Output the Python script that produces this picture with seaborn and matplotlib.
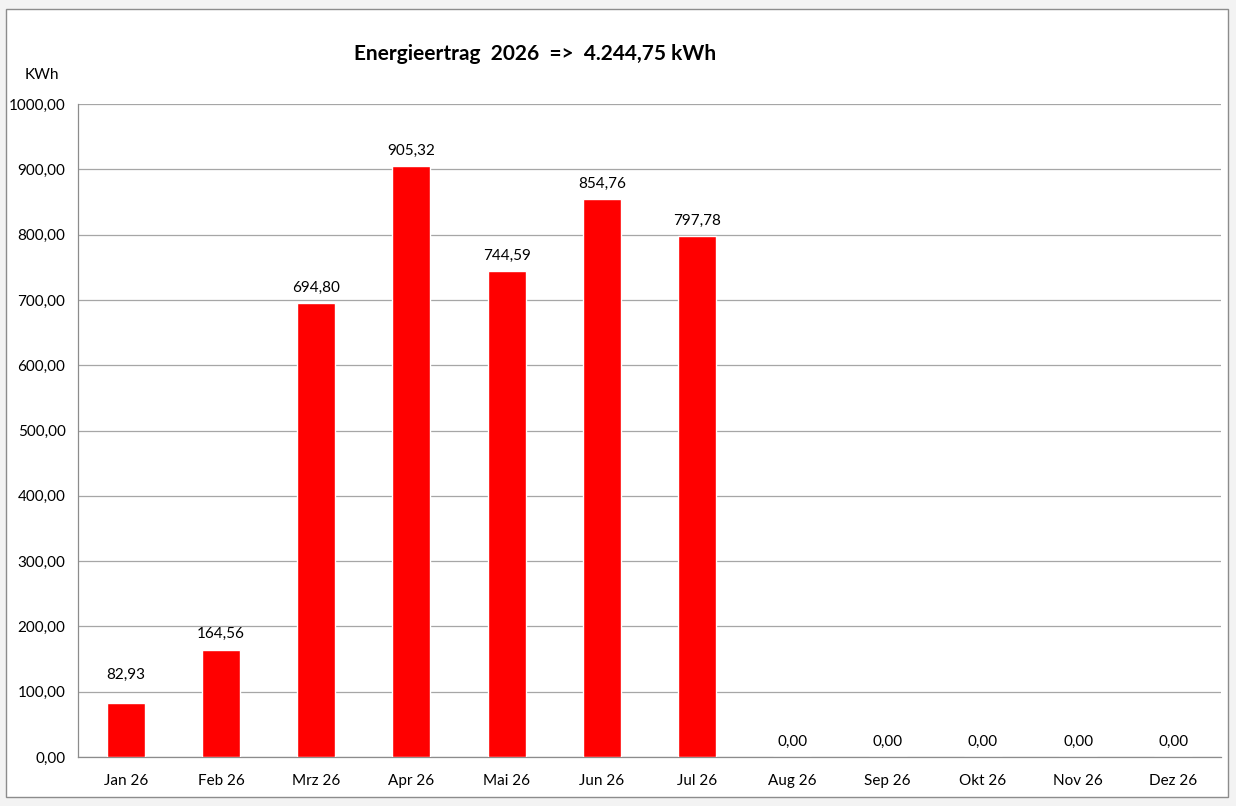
import matplotlib
matplotlib.use("Agg")
import matplotlib.pyplot as plt
from matplotlib.patches import Rectangle
from matplotlib.ticker import FixedLocator
import seaborn as sns

# monthly yield 2026
months = ["Jan 26", "Feb 26", "Mrz 26", "Apr 26", "Mai 26", "Jun 26",
          "Jul 26", "Aug 26", "Sep 26", "Okt 26", "Nov 26", "Dez 26"]
kwh = [82.93, 164.56, 694.80, 905.32, 744.59, 854.76, 797.78,
       0.00, 0.00, 0.00, 0.00, 0.00]
y_ticks = [0, 100, 200, 300, 400, 500, 600, 700, 800, 900, 1000]
title = "Energieertrag  2026  =>  4.244,75 kWh"


def de(v):
    return f"{v:.2f}".replace(".", ",")


sns.set_style("white")
plt.rcParams['font.family'] = ['Lato', 'DejaVu Sans']
plt.rcParams['text.color'] = 'black'
plt.rcParams['xtick.labelcolor'] = 'black'
plt.rcParams['ytick.labelcolor'] = 'black'

fig = plt.figure(figsize=(12.36, 8.06), dpi=100)
fig.patch.set_facecolor("#f3f3f3")
W, H = 1236, 806
# chart frame like excel
fig.patches.append(Rectangle((6 / W, 1 - 797 / H), (1228 - 6) / W, (797 - 9) / H,
                             transform=fig.transFigure, facecolor="white",
                             edgecolor="#8c8c8c", linewidth=1.0, zorder=-1))

ax = fig.add_axes([78 / W, 1 - 757 / H, (1221 - 78) / W, (757 - 104) / H])
ax.set_zorder(1)
ax.set_facecolor("none")

sns.barplot(x=months, y=kwh, color="#ff0000", width=0.4, saturation=1, ax=ax, zorder=3)

ax.set_xlim(-0.5, 11.5)
ax.set_ylim(0, 1000)
ax.set_yticks(y_ticks)
ax.set_yticklabels([de(v) for v in y_ticks], fontsize=11)
ax.yaxis.grid(True, color="#a6a6a6", linewidth=0.9)
ax.set_axisbelow(True)

ax.tick_params(axis="x", which="major", length=0, labelsize=11, pad=12)
ax.xaxis.set_minor_locator(FixedLocator([i - 0.5 for i in range(13)]))
ax.tick_params(axis="x", which="minor", length=5, color="#8c8c8c", width=0.9)
ax.tick_params(axis="y", length=5, color="#8c8c8c", width=0.9, pad=4)

for s in ["top", "right"]:
    ax.spines[s].set_visible(False)
for s in ["left", "bottom"]:
    ax.spines[s].set_color("#8c8c8c")
    ax.spines[s].set_linewidth(0.9)

for i, v in enumerate(kwh):
    # the january label sits a bit higher, above the 100 line
    off = 15 if i == 0 else 6
    ax.annotate(de(v), (i, v), xytext=(0, off), textcoords="offset points",
                ha="center", va="bottom", fontsize=11)

fig.text(535 / W, 1 - 54 / H, title, ha="center", va="center",
         fontsize=15, fontweight="bold")
fig.text(42 / W, 1 - 75 / H, "KWh", ha="center", va="center", fontsize=11)

fig.savefig("out.png", dpi=100, facecolor=fig.get_facecolor())
